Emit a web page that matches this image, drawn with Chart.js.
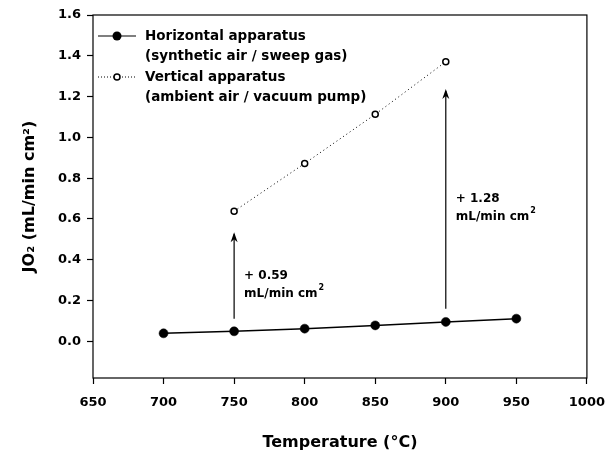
<!DOCTYPE html>
<html>
<head>
<meta charset="utf-8">
<script src="https://cdn.jsdelivr.net/npm/chart.js@4/dist/chart.umd.min.js"></script>
<style>
  body { margin: 0; background: #fff; }
  #wrap { width: 616px; height: 452px; }
</style>
</head>
<body>
<div id="wrap"><canvas id="myChart"></canvas></div>
<script>
// data
const temps = [700, 750, 800, 850, 900, 950];
const horizontal = [0.039, 0.049, 0.062, 0.078, 0.095, 0.111];
const verticalTemps = [750, 800, 850, 900];
const vertical = [0.638, 0.872, 1.113, 1.371];
const xTicks = [650, 700, 750, 800, 850, 900, 950, 1000];
const yTicks = [0, 0.2, 0.4, 0.6, 0.8, 1.0, 1.2, 1.4, 1.6];
const legendLabels = [
  ['Horizontal apparatus', '(synthetic air / sweep gas)'],
  ['Vertical apparatus', '(ambient air / vacuum pump)']
];
// arrows: x, from, to, label lines
const arrows = [
  { x: 750, from: 0.11, to: 0.535, text: ['+ 0.59', 'mL/min cm'] },
  { x: 900, from: 0.16, to: 1.237, text: ['+ 1.28', 'mL/min cm'] }
];

const FONT = "'DejaVu Sans', Arial, sans-serif";
Chart.defaults.font.family = FONT;
Chart.defaults.color = '#000';

const extras = {
  id: 'extras',
  afterDraw(chart) {
    const c = chart.ctx;
    const a = chart.chartArea;
    const xs = chart.scales.x, ys = chart.scales.y;
    c.save();
    // frame
    c.strokeStyle = '#000';
    c.lineWidth = 1.2;
    c.strokeRect(a.left, a.top, a.right - a.left, a.bottom - a.top);

    // arrows + labels
    c.lineWidth = 1.2;
    c.fillStyle = '#000';
    arrows.forEach(ar => {
      const px = xs.getPixelForValue(ar.x);
      const y0 = ys.getPixelForValue(ar.from);
      const y1 = ys.getPixelForValue(ar.to);
      c.beginPath();
      c.moveTo(px, y0);
      c.lineTo(px, y1 + 2);
      c.stroke();
      c.beginPath();
      c.moveTo(px, y1);
      c.lineTo(px - 3.5, y1 + 10);
      c.lineTo(px, y1 + 7);
      c.lineTo(px + 3.5, y1 + 10);
      c.closePath();
      c.fill();
      const mid = (y0 + y1) / 2;
      c.font = 'bold 12px ' + FONT;
      c.textBaseline = 'middle';
      c.textAlign = 'left';
      const tx = px + 10;
      c.fillText(ar.text[0], tx, mid);
      c.fillText(ar.text[1], tx, mid + 18);
      const w = c.measureText(ar.text[1]).width;
      c.font = 'bold 8px ' + FONT;
      c.fillText('2', tx + w + 1, mid + 12);
    });

    // legend
    const lx0 = a.left + 5, lx1 = a.left + 43, tx = a.left + 52;
    c.font = 'bold 13.5px ' + FONT;
    c.textAlign = 'left';
    c.textBaseline = 'middle';
    legendLabels.forEach((lines, i) => {
      const y = a.top + 21 + i * 41;
      c.beginPath();
      c.lineWidth = i === 0 ? 1.2 : 1;
      c.setLineDash(i === 0 ? [] : [1, 2]);
      c.moveTo(lx0, y);
      c.lineTo(lx1, y);
      c.stroke();
      c.setLineDash([]);
      c.beginPath();
      const cx = (lx0 + lx1) / 2;
      if (i === 0) {
        c.arc(cx, y, 4.5, 0, Math.PI * 2);
        c.fillStyle = '#000';
        c.fill();
      } else {
        c.arc(cx, y, 3, 0, Math.PI * 2);
        c.fillStyle = '#fff';
        c.fill();
        c.lineWidth = 1.5;
        c.stroke();
      }
      c.fillStyle = '#000';
      c.fillText(lines[0], tx, y);
      c.fillText(lines[1], tx, y + 20);
    });
    c.restore();
  }
};

const chart = new Chart(document.getElementById('myChart'), {
  type: 'line',
  data: {
    datasets: [
      {
        label: 'Horizontal apparatus',
        data: temps.map((t, i) => ({ x: t, y: horizontal[i] })),
        borderColor: '#000',
        backgroundColor: '#000',
        borderWidth: 1.5,
        pointRadius: 4.5,
        pointBorderWidth: 0.5,
        pointHoverRadius: 4.5,
        tension: 0
      },
      {
        label: 'Vertical apparatus',
        data: verticalTemps.map((t, i) => ({ x: t, y: vertical[i] })),
        borderColor: '#000',
        backgroundColor: '#fff',
        borderWidth: 1,
        borderDash: [1, 3],
        pointRadius: 3,
        pointBorderWidth: 1.5,
        pointBackgroundColor: '#fff',
        pointBorderColor: '#000',
        tension: 0
      }
    ]
  },
  options: {
    responsive: true,
    maintainAspectRatio: false,
    animation: false,
    layout: { padding: { left: 20, top: 15, right: 29, bottom: 0 } },
    plugins: { legend: { display: false }, tooltip: { enabled: false } },
    scales: {
      x: {
        type: 'linear',
        min: 650,
        max: 1000,
        afterBuildTicks: s => { s.ticks = xTicks.map(v => ({ value: v })); },
        afterFit: s => { s.height = 74; },
        grid: { drawOnChartArea: false, tickLength: 6, tickColor: '#000', tickWidth: 1.2 },
        border: { display: false },
        ticks: {
          font: { size: 13, weight: 'bold' },
          padding: 11,
          maxRotation: 0,
          callback: v => String(v)
        },
        title: {
          display: true,
          text: 'Temperature (\u00B0C)',
          font: { size: 16, weight: 'bold' },
          padding: { top: 10, bottom: 0 }
        }
      },
      y: {
        min: -0.18,
        max: 1.6,
        afterBuildTicks: s => { s.ticks = yTicks.map(v => ({ value: v })); },
        afterFit: s => { s.width = 73; },
        grid: { drawOnChartArea: false, tickLength: 6, tickColor: '#000', tickWidth: 1.2 },
        border: { display: false },
        ticks: {
          font: { size: 13, weight: 'bold' },
          padding: 6,
          callback: v => v.toFixed(1)
        },
        title: {
          display: true,
          text: 'JO\u2082 (mL/min cm\u00B2)',
          font: { size: 16, weight: 'bold' },
          padding: { top: 0, bottom: 8 }
        }
      }
    }
  },
  plugins: [extras]
});
</script>
</body>
</html>
